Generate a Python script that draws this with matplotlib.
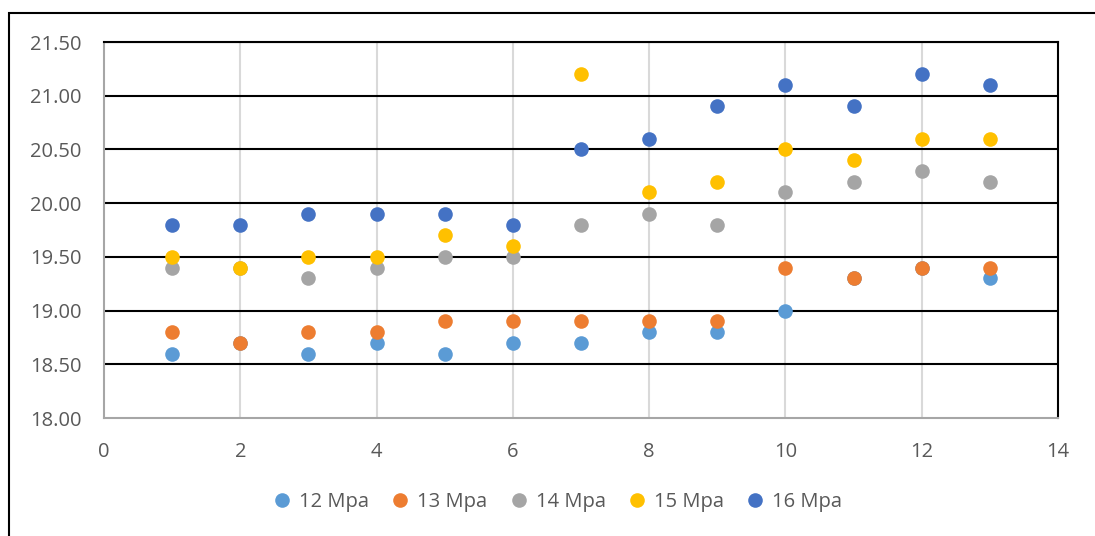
#!/usr/bin/env python3
import matplotlib.pyplot as plt
from matplotlib.patches import Rectangle

OUTPUT_PATH = "out.png"

x_values = [1, 2, 3, 4, 5, 6, 7, 8, 9, 10, 11, 12, 13]
series_names = ["12 Mpa", "13 Mpa", "14 Mpa", "15 Mpa", "16 Mpa"]
mpa_12 = [18.6, 18.7, 18.6, 18.7, 18.6, 18.7, 18.7, 18.8, 18.8, 19.0, 19.3, 19.4, 19.3]
mpa_13 = [18.8, 18.7, 18.8, 18.8, 18.9, 18.9, 18.9, 18.9, 18.9, 19.4, 19.3, 19.4, 19.4]
mpa_14 = [19.4, 19.4, 19.3, 19.4, 19.5, 19.5, 19.8, 19.9, 19.8, 20.1, 20.2, 20.3, 20.2]
mpa_15 = [19.5, 19.4, 19.5, 19.5, 19.7, 19.6, 21.2, 20.1, 20.2, 20.5, 20.4, 20.6, 20.6]
mpa_16 = [19.8, 19.8, 19.9, 19.9, 19.9, 19.8, 20.5, 20.6, 20.9, 21.1, 20.9, 21.2, 21.1]
series_colors = ["#5B9BD5", "#ED7D31", "#A5A5A5", "#FFC000", "#4472C4"]

x_ticks = [0, 2, 4, 6, 8, 10, 12, 14]
y_ticks = [18.0, 18.5, 19.0, 19.5, 20.0, 20.5, 21.0, 21.5]

TEXT_COLOR = "#595959"


def main() -> None:
    plt.rcParams["font.family"] = ["Open Sans", "DejaVu Sans"]
    fig = plt.figure(figsize=(10.95, 5.36), dpi=100)
    fig.patch.set_facecolor("white")

    # outer chart frame (runs off the right and bottom edges)
    fig.patches.append(
        Rectangle((9 / 1095, -0.01), 1.02, (536 - 13) / 536 + 0.01,
                  transform=fig.transFigure, fill=False,
                  edgecolor="black", linewidth=1.5)
    )

    ax = fig.add_axes([104 / 1095, (536 - 418) / 536, (1058 - 104) / 1095, (418 - 42) / 536])
    ax.set_xlim(0, 14)
    ax.set_ylim(18.0, 21.5)

    ax.set_xticks(x_ticks)
    ax.set_yticks(y_ticks)
    ax.set_yticklabels([f"{v:.2f}" for v in y_ticks])
    ax.tick_params(length=0, colors=TEXT_COLOR, labelsize=14.5)
    ax.tick_params(axis="y", pad=16)
    ax.tick_params(axis="x", pad=17)

    for v in x_ticks[1:-1]:
        ax.axvline(v, color="#D9D9D9", linewidth=1.5, zorder=0)
    for v in y_ticks[1:]:
        ax.axhline(v, color="black", linewidth=1.5, zorder=1)

    for side in ["left", "bottom"]:
        ax.spines[side].set_color("#A6A6A6")
        ax.spines[side].set_linewidth(1.5)
    for side in ["top", "right"]:
        ax.spines[side].set_color("black")
        ax.spines[side].set_linewidth(1.5)

    all_series = [mpa_12, mpa_13, mpa_14, mpa_15, mpa_16]
    for name, values, color in zip(series_names, all_series, series_colors):
        ax.plot(x_values, values, linestyle="none", marker="o", markersize=10.5,
                color=color, markeredgewidth=0, label=name, zorder=3, clip_on=False)

    fig.legend(loc="center", bbox_to_anchor=(557 / 1095, 1 - 502 / 536), ncol=5,
               frameon=False, fontsize=14.5, handletextpad=0.35, columnspacing=1.05,
               labelcolor=TEXT_COLOR, handlelength=1.0, markerscale=1.0)

    fig.savefig(OUTPUT_PATH, dpi=100)
    plt.close(fig)


if __name__ == "__main__":
    main()
